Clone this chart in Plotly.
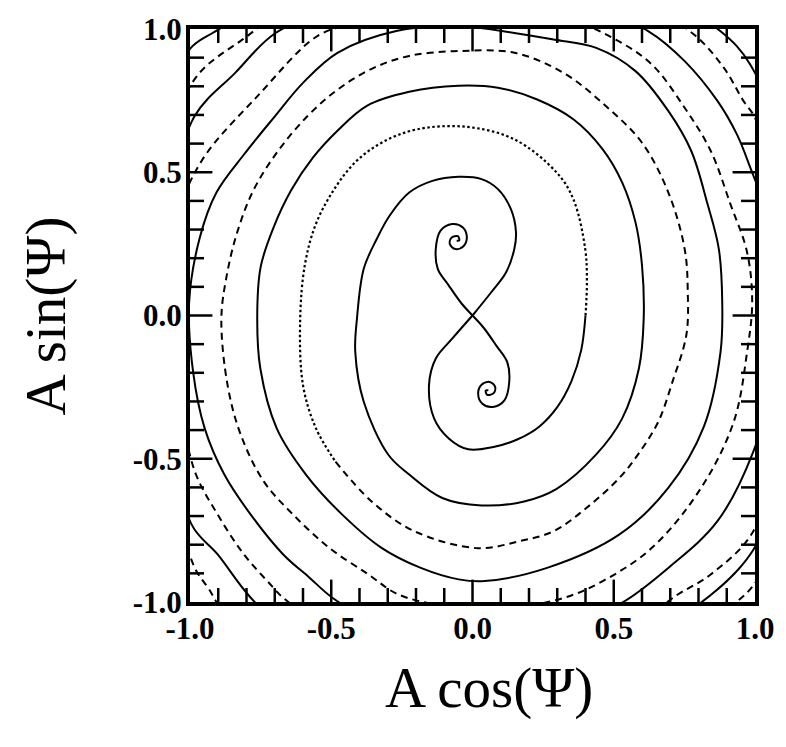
import plotly.graph_objects as go

# Unstable manifold of the saddle: upper focus -> saddle (0,0) -> lower focus (solid)
s0_x = [-0.056, -0.047, -0.052, -0.075, -0.080, -0.061, -0.032, -0.020, -0.035, -0.072,
        -0.113, -0.130, -0.123, -0.085, -0.038, 0.0, 0.038, 0.085, 0.123, 0.130,
        0.113, 0.072, 0.035, 0.020, 0.032, 0.061, 0.080, 0.075, 0.052, 0.047, 0.056]
s0_y = [0.261, 0.262, 0.277, 0.271, 0.249, 0.232, 0.242, 0.273, 0.308, 0.319,
        0.296, 0.232, 0.163, 0.106, 0.041, 0.0, -0.041, -0.106, -0.163, -0.232,
        -0.296, -0.319, -0.308, -0.273, -0.242, -0.232, -0.249, -0.271, -0.277, -0.262, -0.261]

# Stable manifold branch A (leaves the saddle up-right, solid)
sa_x = [0.0, 0.067, 0.119, 0.148, 0.154, 0.136, 0.090, 0.032, -0.049, -0.142,
        -0.223, -0.293, -0.339, -0.385, -0.409, -0.415, -0.385, -0.298, -0.223, -0.107,
        0.032, 0.183, 0.298, 0.438, 0.530, 0.589, 0.606, 0.600, 0.577, 0.530,
        0.461, 0.357, 0.229, 0.090, -0.050, -0.224, -0.374, -0.478, -0.565, -0.642,
        -0.704, -0.750, -0.762, -0.751, -0.693, -0.589, -0.461, -0.322, -0.183, -0.049,
        0.043, 0.264, 0.519, 0.693, 0.819, 0.878, 0.884, 0.872, 0.832, 0.774,
        0.693, 0.577, 0.438, 0.287, 0.148, -0.050, -0.270, -0.478, -0.600, -0.704,
        -0.809, -0.906, -0.965, -1.003, -0.989, -0.948, -0.878, -0.785, -0.670, -0.577,
        -0.496, -0.339, -0.096, 0.183, 0.391, 0.530, 0.693, 0.867, 0.994, 1.070,
        1.087, 1.052, 0.983, 0.936, 0.867, 0.751, 0.623, 0.426, 0.148, -0.165,
        -0.478, -0.697, -0.840, -0.983, -1.063, -1.094, -1.070, -0.994, -0.902, -0.785,
        -0.617, -0.270, 0.078, 0.426, 0.670, 0.809, 0.983, 1.122, 1.174, 1.139,
        0.983, 0.878, 0.704, 0.252, -0.270, -0.722, -0.920, -0.990, -1.070]
sa_y = [0.0, 0.082, 0.151, 0.232, 0.290, 0.371, 0.441, 0.476, 0.484, 0.470,
        0.430, 0.349, 0.267, 0.163, -0.011, -0.127, -0.301, -0.486, -0.556, -0.637,
        -0.663, -0.649, -0.605, -0.485, -0.359, -0.185, -0.011, 0.175, 0.325, 0.464,
        0.580, 0.685, 0.754, 0.795, 0.802, 0.781, 0.732, 0.645, 0.551, 0.437,
        0.308, 0.169, -0.011, -0.185, -0.394, -0.556, -0.695, -0.811, -0.881, -0.921,
        -0.927, -0.881, -0.765, -0.602, -0.388, -0.127, 0.047, 0.232, 0.389, 0.575,
        0.714, 0.853, 0.934, 0.963, 0.986, 1.010, 0.993, 0.917, 0.812, 0.690,
        0.562, 0.430, 0.273, 0.047, -0.197, -0.394, -0.556, -0.695, -0.834, -0.915,
        -0.985, -1.073, -1.118, -1.108, -1.059, -1.002, -0.881, -0.718, -0.475, -0.197,
        0.082, 0.325, 0.517, 0.632, 0.749, 0.888, 0.992, 1.073, 1.118, 1.118,
        1.073, 0.986, 0.847, 0.697, 0.430, 0.047, -0.370, -0.730, -0.834, -0.985,
        -1.136, -1.212, -1.223, -1.170, -1.083, -1.002, -0.834, -0.510, -0.023, 0.464,
        0.876, 0.992, 1.090, 1.195, 1.195, 1.090, 0.986, 0.941, 0.830]

# Stable manifold branch B (leaves the saddle down-left): solid, dotted, dashed parts
sb_solid_x = [0.0, -0.072, -0.130, -0.154, -0.136, -0.084, -0.015, 0.078, 0.160, 0.236,
              0.300, 0.350, 0.385, 0.400]
sb_solid_y = [0.0, -0.081, -0.150, -0.243, -0.359, -0.429, -0.467, -0.458, -0.432, -0.388,
              -0.320, -0.230, -0.120, 0.000]
sb_dot_x = [0.400, 0.405, 0.399, 0.357, 0.298, 0.148, -0.026, -0.200, -0.322, -0.416,
            -0.492, -0.555, -0.593, -0.610, -0.600, -0.554, -0.485]
sb_dot_y = [0.000, 0.116, 0.232, 0.406, 0.499, 0.615, 0.659, 0.649, 0.603, 0.534,
            0.437, 0.318, 0.179, -0.012, -0.243, -0.394, -0.510]
sb_dash_x = [-0.485, -0.357, -0.206, 0.019, 0.165, 0.287, 0.403, 0.519, 0.593, 0.658,
             0.708, 0.757, 0.762, 0.751, 0.693, 0.600, 0.472, 0.322, 0.148, -0.050,
             -0.224, -0.357, -0.478, -0.583, -0.687, -0.774, -0.833, -0.871, -0.889, -0.867,
             -0.820, -0.739, -0.635, -0.507, -0.368, -0.264, -0.096, 0.113, 0.322, 0.461,
             0.635, 0.809, 0.925, 0.972, 0.990, 0.972, 0.913, 0.843, 0.751, 0.635,
             0.507, 0.357, 0.078, -0.200, -0.409, -0.548, -0.757, -0.958, -1.042, -1.063,
             -1.035, -0.983, -0.902, -0.809, -0.716, -0.670, -0.443, -0.096, 0.252, 0.565,
             0.728, 0.843, 0.994, 1.087, 1.122, 1.087, 1.000, 0.959, 0.890, 0.785,
             0.600, 0.252, -0.270, -0.617, -0.816, -0.972, -1.052, -1.104, -1.104, -1.052,
             -0.983, -0.936, -0.878, -0.443, 0.252, 0.704, 0.930, 0.993, 1.087]
sb_dash_y = [-0.510, -0.649, -0.753, -0.812, -0.788, -0.753, -0.672, -0.568, -0.475, -0.370,
             -0.231, -0.068, 0.082, 0.232, 0.430, 0.603, 0.731, 0.847, 0.917, 0.923,
             0.906, 0.861, 0.788, 0.697, 0.576, 0.440, 0.290, 0.134, -0.012, -0.243,
             -0.417, -0.579, -0.695, -0.811, -0.904, -0.973, -1.014, -1.021, -0.986, -0.927,
             -0.811, -0.602, -0.370, -0.127, 0.047, 0.221, 0.389, 0.575, 0.725, 0.876,
             0.963, 1.028, 1.073, 1.063, 1.021, 0.976, 0.770, 0.541, 0.343, -0.023,
             -0.301, -0.544, -0.695, -0.834, -0.938, -0.985, -1.136, -1.188, -1.170, -1.083,
             -0.973, -0.904, -0.753, -0.405, -0.023, 0.395, 0.690, 0.749, 0.864, 0.980,
             1.090, 1.177, 1.177, 1.090, 0.962, 0.840, 0.673, 0.221, -0.301, -0.649,
             -0.881, -0.950, -1.031, -1.240, -1.275, -1.153, -1.003, -0.944, -0.788]

# Axis range and tick positions
axis_lo, axis_hi = -1.0, 1.0
tick_vals = [-1.0, -0.5, 0.0, 0.5, 1.0]
tick_text = ["-1.0", "-0.5", "0.0", "0.5", "1.0"]
major_marks = [-0.5, 0.0, 0.5]
minor_marks = [-0.9, -0.8, -0.7, -0.6, -0.4, -0.3, -0.2, -0.1,
               0.1, 0.2, 0.3, 0.4, 0.6, 0.7, 0.8, 0.9]

fig = go.Figure()


def add_curve(xs, ys, dash, width=2.0):
    fig.add_trace(go.Scatter(
        x=xs, y=ys, mode="lines", hoverinfo="skip", showlegend=False,
        line=dict(color="black", width=width, dash=dash, shape="spline", smoothing=1.0),
    ))


add_curve(s0_x, s0_y, "solid", 2.0)
add_curve(sa_x, sa_y, "solid", 2.0)
add_curve(sb_solid_x, sb_solid_y, "solid", 2.0)
add_curve(sb_dot_x, sb_dot_y, "2.5px,2.5px", 2.2)
add_curve(sb_dash_x, sb_dash_y, "7px,5px", 2.0)


def add_tick_marks(vals, size):
    # inward tick marks on all four sides of the frame; the half outside
    # the plotting area is clipped away by the subplot
    n = len(vals)
    fig.add_trace(go.Scatter(
        x=vals + vals, y=[axis_lo] * n + [axis_hi] * n, mode="markers",
        marker=dict(symbol="line-ns", size=size, color="black",
                    line=dict(width=2.5, color="black")),
        hoverinfo="skip", showlegend=False, cliponaxis=True))
    fig.add_trace(go.Scatter(
        x=[axis_lo] * n + [axis_hi] * n, y=vals + vals, mode="markers",
        marker=dict(symbol="line-ew", size=size, color="black",
                    line=dict(width=2.5, color="black")),
        hoverinfo="skip", showlegend=False, cliponaxis=True))


add_tick_marks(minor_marks, 20)
add_tick_marks(major_marks, 32)

label_font = dict(family="Liberation Serif", size=31, color="black", weight="bold")

axis_style = dict(
    range=[axis_lo, axis_hi], tickmode="array", tickvals=tick_vals, ticktext=tick_text,
    ticks="", showline=True, linewidth=4, linecolor="black", mirror=True,
    showgrid=False, zeroline=False, tickfont=label_font, ticklabeloverflow="allow",
)

fig.update_layout(
    width=786, height=747,
    margin=dict(l=190, r=21, t=25, b=145),
    paper_bgcolor="white", plot_bgcolor="white",
    xaxis=dict(axis_style, ticklabelstandoff=-4),
    yaxis=dict(axis_style, ticklabelstandoff=-2),
    showlegend=False,
    annotations=[
        dict(text="A cos(Ψ)", xref="paper", yref="paper", x=0.53, y=-0.15,
             xanchor="center", yanchor="middle", showarrow=False,
             font=dict(family="Liberation Serif", size=57, color="black")),
        dict(text="A sin(Ψ)", xref="paper", yref="paper", x=-0.255, y=0.5,
             xanchor="center", yanchor="middle", showarrow=False, textangle=-90,
             font=dict(family="Liberation Serif", size=57, color="black")),
    ],
)

# remove the browser's default page margin so the figure fills the window exactly
fig.write_html("out.html",
               config={"displayModeBar": False},
               post_script="document.body.style.margin='0';document.body.style.overflow='hidden';")
